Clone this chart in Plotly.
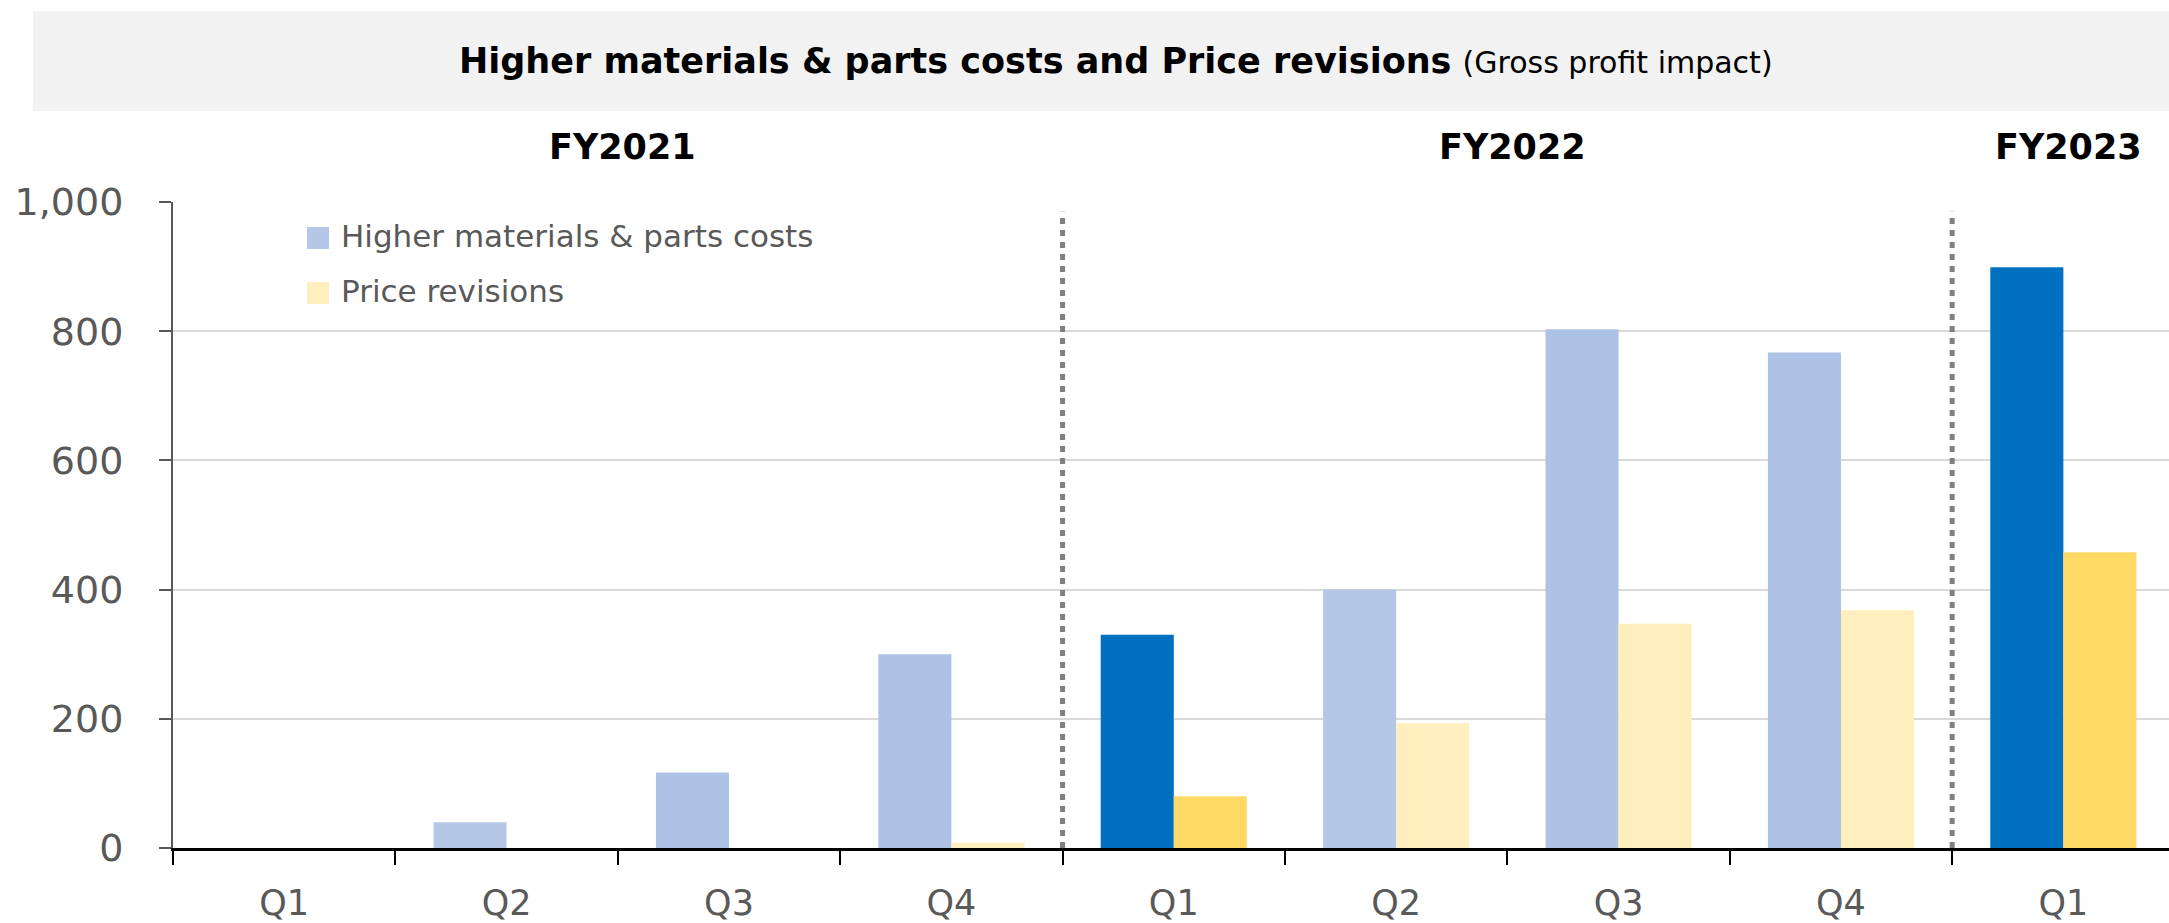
import plotly.graph_objects as go

# ── data ────────────────────────────────────────────────────────────────────
fiscal_years = ["FY2021", "FY2021", "FY2021", "FY2021",
                "FY2022", "FY2022", "FY2022", "FY2022", "FY2023"]
quarters = ["Q1", "Q2", "Q3", "Q4", "Q1", "Q2", "Q3", "Q4", "Q1"]
materials_costs = [0, 40, 117, 300, 330, 400, 803, 767, 899]
price_revisions = [0, 0, 0, 8, 80, 193, 347, 368, 458]

# ── style ───────────────────────────────────────────────────────────────────
W, H = 2169, 923
PLOT_L, PLOT_R, PLOT_T, PLOT_B = 173, 2169, 202, 848
FONT = "Verdana, 'DejaVu Sans', sans-serif"
GREY_TXT = "#595959"

LIGHT_BLUE, MID_BLUE, DARK_BLUE = "#B4C7E7", "#ADC2E4", "#0070C0"
LIGHT_YEL, DARK_YEL = "#FFEFBF", "#FFD966"
cost_colors = [LIGHT_BLUE, LIGHT_BLUE, MID_BLUE, MID_BLUE, DARK_BLUE,
               LIGHT_BLUE, MID_BLUE, MID_BLUE, DARK_BLUE]
price_colors = [LIGHT_YEL, LIGHT_YEL, LIGHT_YEL, LIGHT_YEL, DARK_YEL,
                LIGHT_YEL, LIGHT_YEL, LIGHT_YEL, DARK_YEL]


def px_x(x):
    return (x - PLOT_L) / (PLOT_R - PLOT_L)


def px_y(y):
    return (PLOT_B - y) / (PLOT_B - PLOT_T)


xs = list(range(len(quarters)))

fig = go.Figure()
fig.add_trace(go.Bar(x=xs, y=materials_costs, marker=dict(color=cost_colors, line_width=0),
                     name="Higher materials & parts costs", showlegend=False))
fig.add_trace(go.Bar(x=xs, y=price_revisions, marker=dict(color=price_colors, line_width=0),
                     name="Price revisions", showlegend=False))

# fiscal-year dividers
for i in range(1, len(fiscal_years)):
    if fiscal_years[i] != fiscal_years[i - 1]:
        fig.add_shape(type="line", xref="x", yref="y", x0=i - 0.5, x1=i - 0.5, y0=0, y1=985,
                      line=dict(color="#808080", width=5, dash="6px,6px"), layer="above")

# fiscal-year labels centred on their quarters
for fy in dict.fromkeys(fiscal_years):
    idx = [i for i, f in enumerate(fiscal_years) if f == fy]
    fig.add_annotation(x=sum(idx) / len(idx), y=px_y(147), xref="x", yref="paper",
                       xanchor="center", yanchor="middle", xshift=5,
                       text=f"<b>{fy}</b>", showarrow=False,
                       font=dict(family=FONT, size=35, color="black"))

# title banner
fig.add_shape(type="rect", xref="paper", yref="paper",
              x0=px_x(33), x1=px_x(2169), y0=px_y(111), y1=px_y(11),
              fillcolor="#F2F2F2", line_width=0, layer="below")
fig.add_annotation(x=px_x(1116), y=px_y(61), xref="paper", yref="paper", showarrow=False,
                   xanchor="center", yanchor="middle",
                   text="<b>Higher materials &amp; parts costs and Price revisions</b>"
                        " <span style='font-size:30px'>(Gross profit impact)</span>",
                   font=dict(family=FONT, size=35, color="black"))

# legend
for (name, col, yc) in [("Higher materials & parts costs", LIGHT_BLUE, 238),
                        ("Price revisions", LIGHT_YEL, 293)]:
    fig.add_shape(type="rect", xref="paper", yref="paper",
                  x0=px_x(307), x1=px_x(329), y0=px_y(yc + 11), y1=px_y(yc - 11),
                  fillcolor=col, line_width=0)
    fig.add_annotation(x=px_x(339), y=px_y(yc - 2), xref="paper", yref="paper", showarrow=False,
                       xanchor="left", yanchor="middle", text=name.replace("&", "&amp;"),
                       font=dict(family=FONT, size=31, color=GREY_TXT))

fig.update_layout(
    width=W, height=H,
    margin=dict(l=PLOT_L, r=W - PLOT_R, t=PLOT_T, b=H - PLOT_B, pad=0, autoexpand=False),
    paper_bgcolor="white", plot_bgcolor="white",
    barmode="group", bargap=0.343, bargroupgap=0,
    font=dict(family=FONT, color=GREY_TXT),
    showlegend=False,
    xaxis=dict(
        automargin=False,
        range=[-0.5, len(quarters) - 0.525],  # last quarter runs off the right edge
        tickmode="array", tickvals=xs, ticktext=quarters,
        ticks="outside", ticklen=14, tickcolor="rgba(0,0,0,0)",
        ticklabelstandoff=8,
        tickfont=dict(size=35, color=GREY_TXT),
        showgrid=False, zeroline=False,
        showline=True, linecolor="black", linewidth=3,
        minor=dict(tickmode="array", tickvals=[i - 0.5 for i in range(len(quarters) + 1)],
                   ticks="outside", ticklen=14, tickcolor="black", tickwidth=2,
                   showgrid=False),
    ),
    yaxis=dict(
        automargin=False,
        range=[0, 1000], tickmode="linear", tick0=0, dtick=200, tickformat=",d",
        ticks="outside", ticklen=12, tickcolor=GREY_TXT, tickwidth=2,
        ticklabelstandoff=28,
        tickfont=dict(size=38, color=GREY_TXT),
        showgrid=True, gridcolor="#D9D9D9", gridwidth=2,
        zeroline=False,
        showline=True, linecolor=GREY_TXT, linewidth=2,
    ),
)

# drop the browser's default 8px body margin so the figure sits at the page origin
fig.write_html("out.html", config={"displayModeBar": False},
               post_script="document.body.style.margin='0';")
